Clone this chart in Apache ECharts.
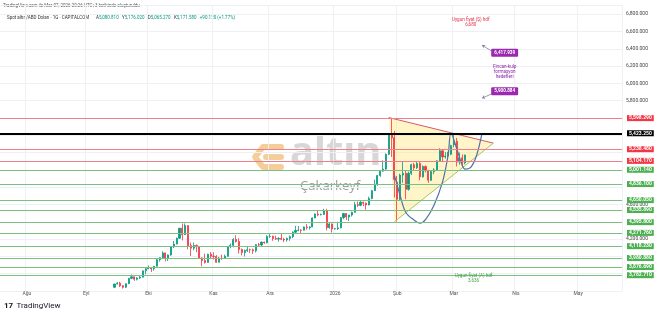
<!DOCTYPE html>
<html><head><meta charset="utf-8">
<script src="https://cdn.jsdelivr.net/npm/echarts@6/dist/echarts.min.js"></script>
<style>html,body{margin:0;padding:0;background:#fff}#c{width:654px;height:315px}</style>
</head><body><div id="c"></div>
<script>
// ---- axis ----
const axisStart = '2025-07-21', axisEnd = '2026-05-22';
const monthKeys = ['2025-08','2025-09','2025-10','2025-11','2025-12','2026-01','2026-02','2026-03','2026-04','2026-05'];
const monthLabels = ['Ağu','Eyl','Eki','Kas','Ara','2026','Şub','Mar','Nis','May'];
const priceTicksShown = [6800,6600,6400,6200,6000,5800,4600,4200];

// ---- daily candles (weekdays from candleStart) ----
const candleStart = '2025-09-15';
const opens = [3643,3680,3690,3660,3643, 3685,3746,3764,3736,3750, 3760,3833,
 3858,3866,3856, 3886,3961,3985,4040,3975, 4017,4110,4143,4209,4326, 4251,4356,4125,4095,4126, 4113,3982,3952,3930,4025,
 4002,4000,3932,3980,3977, 4001,4115,4128,4195,4172, 4080,4045,4067,4078,4077, 4065,4135,4132,4165,4158,
 4230,4232,4207,4200,4208, 4197,4190,4208,4228,4280, 4300,4305,4302,4340,4332, 4340,4445,4490,4480,4485, 4530,4332,4375,
 4318,4320, 4330,4448,4495,4455,4478, 4510,4598,4590,4625,4615, 4595,4670,4760,4835,4935, 4985,5010,5180,5415,5370,
 4860,4660,4940,4960,4775, 4960,5060,5025,5075,4920, 5040,4990,4880,4980,5000, 5105,5220,5150,5160,5180,
 5290,5330,5090,5140,5080.81];
const highs = [3685,3703,3707,3667,3686, 3749,3791,3766,3760,3782, 3835,3872,
 3895,3875,3889, 3975,3990,4059,4045,4022, 4116,4179,4218,4330,4380, 4381,4359,4160,4160,4138, 4115,3989,4031,4030,4050,
 4047,4015,3995,4020,4020, 4120,4148,4210,4245,4210, 4090,4080,4110,4090,4090, 4140,4155,4170,4170,4245,
 4264,4240,4240,4222,4260, 4215,4218,4240,4290,4353, 4350,4315,4345,4375,4350, 4450,4497,4525,4495,4550, 4550,4390,4380,
 4330,4400, 4455,4500,4500,4480,4518, 4630,4635,4645,4635,4625, 4690,4765,4888,4940,4990, 5110,5190,5420,5598,5450,
 4930,4955,5092,4990,4980, 5070,5080,5100,5090,5050, 5050,5000,4990,5020,5110, 5250,5230,5205,5210,5290,
 5419,5370,5200,5180,5176.02];
const lows = [3633,3675,3646,3628,3634, 3680,3737,3717,3722,3740, 3758,3793,
 3850,3820,3835, 3885,3940,3980,3944,3947, 4008,4097,4140,4205,4185, 4250,4082,4004,4070,4050, 3973,3886,3916,3930,3970,
 3965,3928,3930,3960,3970, 3995,4095,4105,4160,4033, 4010,4000,4050,4040,4030, 4045,4112,4120,4145,4150,
 4215,4180,4190,4170,4190, 4165,4170,4180,4210,4270, 4290,4270,4300,4310,4310, 4340,4440,4465,4475,4480, 4302,4320,4275,
 4310,4305, 4325,4430,4420,4410,4460, 4505,4570,4580,4580,4540, 4590,4660,4755,4815,4920, 4980,5000,5170,5150,4680,
 4402,4640,4850,4660,4760, 4940,4990,5010,4880,4910, 4970,4850,4870,4950,4990, 5100,5090,5130,5140,5170,
 5260,5040,5060,5040,5065.27];
const closes = [3680,3690,3660,3643,3685, 3746,3764,3736,3750,3760, 3833,3858,
 3866,3856,3886, 3961,3985,4040,3975,4017, 4110,4143,4209,4326,4251, 4356,4125,4095,4126,4113, 3982,3952,3930,4025,4002,
 4000,3932,3980,3977,4001, 4115,4128,4195,4172,4080, 4045,4067,4078,4077,4065, 4135,4132,4165,4158,4230,
 4232,4207,4200,4208,4197, 4190,4208,4228,4280,4300, 4305,4302,4340,4332,4340, 4445,4490,4480,4485,4530, 4332,4375,4318,
 4320,4330, 4448,4495,4455,4478,4510, 4598,4590,4625,4615,4595, 4670,4760,4835,4935,4985, 5010,5180,5415,5370,4890,
 4660,4940,4960,4775,4960, 5060,5025,5075,4920,5040, 4990,4880,4980,5000,5105, 5220,5150,5160,5180,5280,
 5330,5090,5140,5081,5171.58];

// ---- horizontal levels ----
const redLevels = [5598.29, 5238.483, 5104.173];
const blackLevels = [5423.248];
const greenLevels = [5001.144, 4836.105, 4650.048, 4535.891, 4395.795, 4271.757, 4118.231, 3980.877, 3876.693, 3782.708];
const lastPrice = 5171.58;

// ---- header values ----
const hdrOpen = 5080.81, hdrHigh = 5176.02, hdrLow = 5065.27, hdrClose = 5171.58, hdrChange = 90.12, hdrPct = 1.77;

// ---- drawings (date, price) ----
const triangleDates = ['2026-01-28','2026-03-20','2026-01-30'];
const trianglePrices = [5605, 5309, 4400];
const cupDates = ['2026-01-30','2026-02-03','2026-02-05','2026-02-10','2026-02-12','2026-02-16','2026-02-19','2026-02-24','2026-02-26','2026-02-27',
                  '2026-03-03','2026-03-05','2026-03-06','2026-03-10','2026-03-12','2026-03-16'];
const cupPrices = [4940,4708,4511,4419,4384,4425,4592,4858,5170,5424, 5250,5050,5008,5030,5160,5424];
const noteTargets = [6417.939, 5900.884];
const noteBoxDates = ['2026-03-26','2026-03-26'];
const noteBoxPrices = [6355, 5908];
const noteArrowFrom = [['2026-03-16',6442],['2026-03-16',5829]];
const noteArrowTo = [['2026-03-20',6361],['2026-03-20',5887]];
const textNotes = [
  {date:'2026-03-10', price:6702, text:'Uygun fiyat (Ş) hdf\n6,680', color:'#e0344a'},
  {date:'2026-03-26', price:6130, text:'Fincan-kulp\nformasyon\nhedefleri', color:'#8e24aa'},
  {date:'2026-03-11', price:3750, text:'Uygun fiyat (A) hdf\n3,636', color:'#43a047'}
];

// ---- build ----
const categories = [];
for (let d = new Date(axisStart + 'T00:00:00Z'); d <= new Date(axisEnd + 'T00:00:00Z'); d.setUTCDate(d.getUTCDate() + 1)) {
  const wd = d.getUTCDay();
  if (wd === 0 || wd === 6) continue;
  categories.push(d.toISOString().slice(0, 10));
}
const ci = d => categories.indexOf(d);
const monthAt = {};
monthKeys.forEach((k, i) => { const idx = categories.findIndex(c => c.startsWith(k)); if (idx >= 0) monthAt[idx] = monthLabels[i]; });
const isMonth = idx => monthAt[idx] !== undefined;
const fmt = v => v.toLocaleString('en-US', {minimumFractionDigits: 3, maximumFractionDigits: 3});

const s0 = ci(candleStart);
const candleData = opens.map((o, i) => [s0 + i, o, closes[i], lows[i], highs[i]]);

const UP = '#089981', DOWN = '#f23645', GREEN = '#4caf50', RED = '#f23645';
const FONT = 'Roboto, "Noto Sans", sans-serif';
const boxLabel = (bg) => ({show: true, position: 'end', distance: 5, formatter: p => fmt(p.value),
  color: '#fff', backgroundColor: bg, padding: [1, 2, 0, 2], fontSize: 5, fontFamily: FONT, fontWeight: 'bold'});
const levelLine = (v, color, width, bg) => ({yAxis: v, lineStyle: {color, width, type: 'solid'}, label: boxLabel(bg)});

const markLines = []
  .concat(greenLevels.map(v => levelLine(v, '#7cbf7f', 1, GREEN)))
  .concat(redLevels.map(v => levelLine(v, '#f07f8a', 1, RED)))
  .concat(blackLevels.map(v => levelLine(v, '#000', 2, '#000')))
  .concat([{yAxis: lastPrice, lineStyle: {color: UP, width: 1, type: 'dotted', opacity: 0}, label: boxLabel(UP)}]);

const chart = echarts.init(document.getElementById('c'), null, {renderer: 'canvas'});
chart.setOption({
  animation: false,
  backgroundColor: '#fff',
  textStyle: {fontFamily: FONT},
  grid: {left: 0, right: 32, top: 5.5, bottom: 24},
  xAxis: {
    type: 'category', data: categories, boundaryGap: true,
    axisLine: {show: false}, axisTick: {show: false},
    axisLabel: {interval: idx => isMonth(idx), formatter: (v, idx) => monthAt[idx] || '', fontSize: 5, color: '#555', margin: 0, fontFamily: FONT},
    splitLine: {show: true, interval: idx => isMonth(idx), lineStyle: {color: '#eef0f4', width: 1}}
  },
  yAxis: {
    type: 'value', position: 'right', min: 3600, max: 6900, interval: 200, scale: true,
    axisLine: {show: false}, axisTick: {show: false},
    axisLabel: {formatter: v => priceTicksShown.includes(v) ? fmt(v) : '', fontSize: 5, color: '#444', margin: 4, fontFamily: FONT},
    splitLine: {lineStyle: {color: '#eef0f4', width: 1}}
  },
  series: [
    {type: 'custom', z: 1, silent: true, data: [[0, 0]],
     renderItem: (params, api) => {
       if (params.dataIndex !== 0) return;
       const pts = triangleDates.map((d, i) => api.coord([ci(d), trianglePrices[i]]));
       return {type: 'polygon', shape: {points: pts}, style: {fill: 'rgba(255,228,110,0.38)'}};
     }},
    {type: 'candlestick', z: 2, clip: true, barWidth: 1.6,
     encode: {x: 0, y: [1, 2, 3, 4]}, data: candleData,
     itemStyle: {color: UP, color0: DOWN, borderColor: UP, borderColor0: DOWN, borderWidth: 0.8}},
    {type: 'line', z: 3, silent: true, symbol: 'none', data: [[ci(triangleDates[0]), trianglePrices[0]], [ci(triangleDates[1]), trianglePrices[1]]],
     lineStyle: {color: '#d65a62', width: 1}},
    {type: 'line', z: 3, silent: true, symbol: 'none', data: [[ci(triangleDates[2]), trianglePrices[2]], [ci(triangleDates[1]), trianglePrices[1]]],
     lineStyle: {color: '#a9c46c', width: 1}},
    {type: 'line', z: 4, silent: true, symbol: 'none', smooth: 0.35, data: cupDates.map((d, i) => [ci(d), cupPrices[i]]),
     lineStyle: {color: '#4f73a8', width: 1.2}},
    {type: 'line', z: 5, silent: true, data: [],
     markLine: {silent: true, symbol: ['none', 'none'], animation: false, data: markLines.concat(
       noteArrowFrom.map((f, i) => [{coord: [ci(f[0]), f[1]], symbol: 'arrow', symbolSize: 3},
         {coord: [ci(noteArrowTo[i][0]), noteArrowTo[i][1]], symbol: 'none', lineStyle: {color: '#8a7fa0', width: 0.8, type: 'solid'}, label: {show: false}}]))},
     markPoint: {silent: true, symbol: 'circle', symbolSize: 0, animation: false, data:
       noteTargets.map((v, i) => ({coord: [ci(noteBoxDates[i]), noteBoxPrices[i]], label: {show: true, position: 'inside', formatter: fmt(v),
         color: '#fff', backgroundColor: '#9c27b0', padding: [2, 3, 1, 3], borderRadius: 1, fontSize: 4.6, fontWeight: 'bold', fontFamily: FONT}}))
       .concat(textNotes.map(n => ({coord: [ci(n.date), n.price], label: {show: true, position: 'inside', formatter: n.text,
         color: n.color, fontSize: 4.6, lineHeight: 5, align: 'center', fontFamily: FONT}})))}
    }
  ],
  graphic: [
    {type: 'text', left: 3, top: 3, silent: true, style: {text: 'TradingView.com ile Mar 07, 2026 20:26 UTC+3 tarihinde oluşturuldu', fontSize: 4.5, fill: '#555', fontFamily: FONT}},
    {type: 'text', left: 7, top: 12, silent: true, style: {
      text: '{t|Spot altın/ABD Doları · 1G · CAPITALCOM}  {t|A}{g|' + fmt(hdrOpen) + '} {t|Y}{g|' + fmt(hdrHigh) + '} {t|D}{g|' + fmt(hdrLow) + '} {t|K}{g|' + fmt(hdrClose) + '} {g|+' + fmt(hdrChange) + ' (+' + hdrPct.toFixed(2) + '%)}',
      rich: {t: {fontSize: 4.5, fill: '#333', fontFamily: FONT}, g: {fontSize: 4.5, fill: UP, fontFamily: FONT}}}},
    {type: 'group', silent: true, children: [
      {type: 'polyline', shape: {points: [[281, 147], [263, 147], [255, 157], [263, 167], [281, 167]]}, style: {stroke: 'rgba(240,190,120,0.75)', lineWidth: 6, fill: null, lineCap: 'round', lineJoin: 'round'}},
      {type: 'polyline', shape: {points: [[266, 157], [281, 157]]}, style: {stroke: 'rgba(240,190,120,0.75)', lineWidth: 6, fill: null, lineCap: 'round'}}
    ]},
    {type: 'text', left: 290, top: 134, silent: true, style: {text: 'altın', fontSize: 40, fontWeight: 'bold', fill: 'rgba(150,150,150,0.38)', fontFamily: '"Noto Sans", sans-serif'}},
    {type: 'text', left: 300, top: 180, silent: true, style: {text: 'Çakarkeyf', fontSize: 13, fill: 'rgba(120,120,120,0.7)', fontFamily: '"Noto Sans", sans-serif'}},
    {type: 'text', left: 4, top: 300, silent: true, style: {text: '{l|17} {n|TradingView}', rich: {l: {fontSize: 8, fontWeight: 'bold', fill: '#131722', fontFamily: FONT}, n: {fontSize: 8, fill: '#131722', fontFamily: FONT}}}}
  ]
});
</script></body></html>
